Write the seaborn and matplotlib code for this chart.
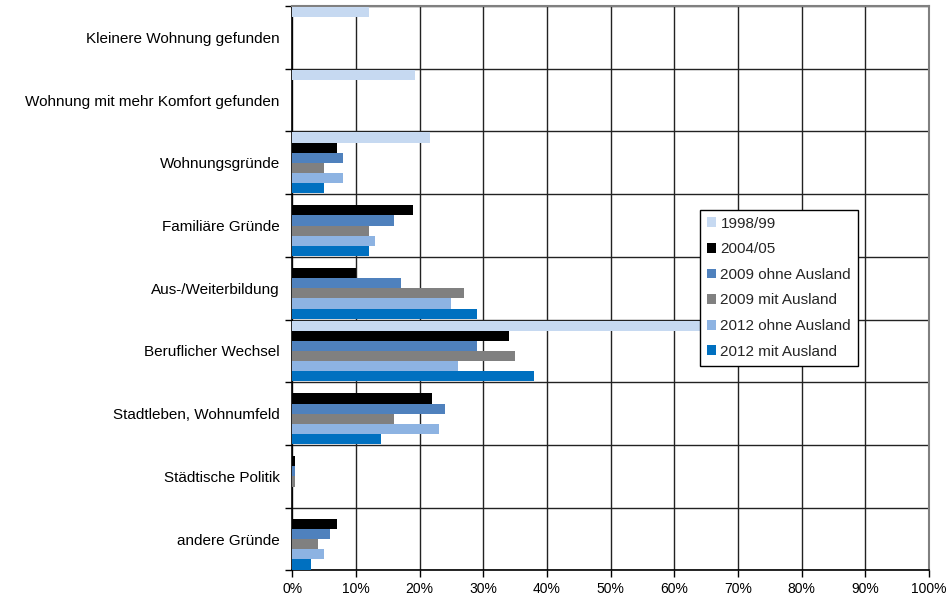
import numpy as np
import pandas as pd
import matplotlib
matplotlib.use('Agg')
import matplotlib.pyplot as plt
import seaborn as sns
from matplotlib.ticker import MultipleLocator, PercentFormatter

# Kategorien (von oben nach unten)
categories = ['Kleinere Wohnung gefunden', 'Wohnung mit mehr Komfort gefunden',
              'Wohnungsgründe', 'Familiäre Gründe', 'Aus-/Weiterbildung',
              'Beruflicher Wechsel', 'Stadtleben, Wohnumfeld',
              'Städtische Politik', 'andere Gründe']
series = ['1998/99', '2004/05', '2009 ohne Ausland', '2009 mit Ausland',
          '2012 ohne Ausland', '2012 mit Ausland']

nan = np.nan
v_1998 = [12, 19.2, 21.7, nan, nan, 66, nan, nan, nan]
v_2004 = [nan, nan, 7, 19, 10, 34, 22, 0.4, 7]
v_2009_ohne = [nan, nan, 8, 16, 17, 29, 24, 0.5, 6]
v_2009_mit = [nan, nan, 5, 12, 27, 35, 16, 0.4, 4]
v_2012_ohne = [nan, nan, 8, 13, 25, 26, 23, nan, 5]
v_2012_mit = [nan, nan, 5, 12, 29, 38, 14, nan, 3]

colors = ['#C6D9F1', '#000000', '#4F81BD', '#808080', '#8DB3E2', '#0070C0']

df = pd.DataFrame({'Grund': categories,
                   series[0]: v_1998, series[1]: v_2004,
                   series[2]: v_2009_ohne, series[3]: v_2009_mit,
                   series[4]: v_2012_ohne, series[5]: v_2012_mit})
long = df.melt(id_vars='Grund', var_name='Jahr', value_name='Anteil')

sns.set_style('white')
plt.rcParams['font.family'] = ['Liberation Sans', 'DejaVu Sans']

fig, ax = plt.subplots(figsize=(9.52, 5.98), dpi=100)
fig.subplots_adjust(left=0.307, right=0.976, top=0.99, bottom=0.046)

sns.barplot(data=long, y='Grund', x='Anteil', hue='Jahr', order=categories,
            hue_order=series, palette=colors, saturation=1, orient='h',
            width=0.97, gap=0, ax=ax, zorder=3, linewidth=0)

ax.set_xlim(0, 100)
ax.set_ylim(len(categories) - 0.5, -0.5)
ax.xaxis.set_major_locator(MultipleLocator(10))
ax.xaxis.set_major_formatter(PercentFormatter(decimals=0))
ax.set_yticks(np.arange(len(categories) + 1) - 0.5, minor=True)
ax.tick_params(axis='y', which='major', left=False, length=0, labelsize=11,
               pad=9, labelcolor='black')
ax.tick_params(axis='y', which='minor', left=True, length=5, width=1,
               color='black', direction='out')
ax.tick_params(axis='x', bottom=True, length=5, width=1, color='black',
               direction='out', labelsize=10, labelcolor='black')
ax.grid(True, axis='x', which='major', color='#222222', linewidth=1, zorder=0)
ax.grid(True, axis='y', which='minor', color='#222222', linewidth=1, zorder=0)
ax.set_axisbelow(True)
ax.set_xlabel('')
ax.set_ylabel('')

for s in ['left', 'bottom']:
    ax.spines[s].set_color('black')
    ax.spines[s].set_linewidth(1.2)
for s in ['top', 'right']:
    ax.spines[s].set_color('#808080')
    ax.spines[s].set_linewidth(1.5)
    ax.spines[s].set_visible(True)

leg = ax.legend(loc='upper left', bbox_to_anchor=(0.640, 0.639), frameon=True,
                fancybox=False, edgecolor='black', fontsize=11, framealpha=1,
                handlelength=0.6, handleheight=0.6, handletextpad=0.3,
                labelspacing=0.76, borderpad=0.45, borderaxespad=0)
leg.get_frame().set_linewidth(1)
leg.get_frame().set_facecolor('white')
leg.set_zorder(5)

plt.savefig('out.png', dpi=100)
